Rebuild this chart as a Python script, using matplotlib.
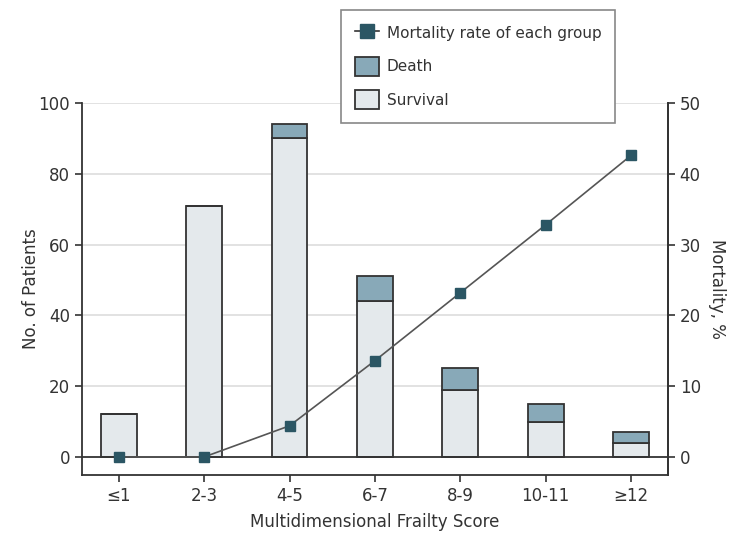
import numpy as np
import matplotlib.pyplot as plt
from matplotlib.patches import Patch
from matplotlib.lines import Line2D

plt.rcParams['font.family'] = ['Liberation Sans Narrow', 'DejaVu Sans']
plt.rcParams['font.size'] = 12

# frailty score groups
groups = ["≤1", "2-3", "4-5", "6-7", "8-9", "10-11", "≥12"]
survival = [12, 71, 90, 44, 19, 10, 4]
death = [0, 0, 4, 7, 6, 5, 3]
mortality = [0, 0, 4.4, 13.6, 23.2, 32.8, 42.6]

text_col = '#333333'
edge_col = '#333333'
death_col = '#88A9B8'
surv_col = '#E4E9EC'
mark_col = '#2B5664'

fig = plt.figure(figsize=(7.35, 5.33), dpi=100)
ax = fig.add_axes([0.1116, 0.1088, 0.797, 0.698])
x = np.arange(len(groups))

ax.bar(x, survival, width=0.42, color=surv_col, edgecolor=edge_col, linewidth=1.3, zorder=2)
ax.bar(x, death, width=0.42, bottom=survival, color=death_col, edgecolor=edge_col, linewidth=1.3, zorder=2)
ax.axhline(0, color=edge_col, lw=1.3, zorder=3)

ax.set_xlim(-0.43, 6.43)
ax.set_ylim(-5.1, 100)
ax.set_yticks([0, 20, 40, 60, 80, 100])
ax.set_xticks(x)
ax.set_xticklabels(groups)
for v in [20, 40, 60, 80, 100]:
    ax.axhline(v, color='#dddddd', lw=1.2, zorder=0)

ax.spines['top'].set_visible(False)
for s in ['left', 'right', 'bottom']:
    ax.spines[s].set_color(edge_col)
    ax.spines[s].set_linewidth(1.3)
ax.tick_params(colors=text_col, width=1.2, length=5, labelsize=12)
ax.set_xlabel('Multidimensional Frailty Score', color=text_col, fontsize=12, labelpad=6)
ax.set_ylabel('No. of Patients', color=text_col, fontsize=12)
ax.yaxis.set_label_coords(-0.072, 0.5)

ax2 = ax.twinx()
ax2.set_ylim(-2.55, 50)
ax2.set_yticks([0, 10, 20, 30, 40, 50])
ax2.plot(x, mortality, color='#555555', lw=1.2, marker='s', markersize=7.5,
         markerfacecolor=mark_col, markeredgecolor=mark_col, zorder=5)
ax2.spines['top'].set_visible(False)
ax2.spines['left'].set_visible(False)
ax2.spines['bottom'].set_visible(False)
ax2.spines['right'].set_color(edge_col)
ax2.spines['right'].set_linewidth(1.3)
ax2.tick_params(colors=text_col, width=1.2, length=5, labelsize=12)
ax2.set_ylabel('Mortality, %', color=text_col, fontsize=12, rotation=270, labelpad=18)

handles = [
    Line2D([0], [0], color='#333333', lw=1.2, marker='s', markersize=10,
           markerfacecolor=mark_col, markeredgecolor=mark_col),
    Patch(facecolor=death_col, edgecolor=edge_col, linewidth=1.3),
    Patch(facecolor=surv_col, edgecolor=edge_col, linewidth=1.3),
]
leg = fig.legend(handles, ['Mortality rate of each group', 'Death', 'Survival'],
                 loc='upper left', bbox_to_anchor=(0.464, 0.981), borderaxespad=0,
                 fancybox=False, edgecolor='#888888', framealpha=1, fontsize=11,
                 labelcolor=text_col, handlelength=1.6, handleheight=1.5,
                 borderpad=0.9, labelspacing=0.95, handletextpad=0.5)
leg.get_frame().set_linewidth(1.2)
leg.set_zorder(10)

fig.savefig('out.png', dpi=100)
